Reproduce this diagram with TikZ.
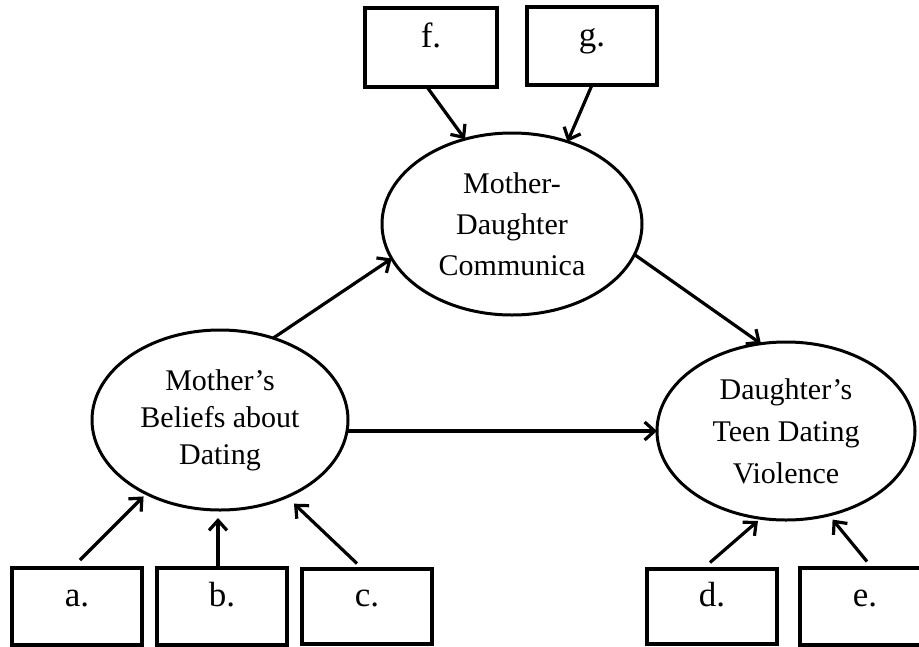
\documentclass[tikz,border=0pt]{standalone}
\usepackage{fontspec}
\setmainfont{Liberation Serif}
\usetikzlibrary{arrows.meta,shapes.geometric}

\begin{document}
\begin{tikzpicture}[x=1pt,y=-1pt,
  oval/.style={ellipse,draw,line width=3pt,inner sep=0pt,outer sep=0pt,align=center},
  slot/.style={rectangle,draw,line width=4pt,inner sep=0pt,outer sep=0pt,
    minimum width=130pt,minimum height=77pt,text height=12pt,text depth=12pt,
    font=\fontsize{35}{40}\selectfont},
  link/.style={line width=3.2pt,-{Straight Barb[length=10pt,width=18pt]}}]
\useasboundingbox (0,0) rectangle (919,646);
\clip (0,0) rectangle (919,646);

% latent constructs
\node[oval,minimum width=260pt,minimum height=182pt,font=\fontsize{30}{41}\selectfont]
  (T) at (512,224) {Mother-\\Daughter\\Communica};
\node[oval,minimum width=256pt,minimum height=180pt,font=\fontsize{30}{37}\selectfont]
  (L) at (220,420) {Mother’s\\Beliefs about\\Dating};
\node[oval,minimum width=258pt,minimum height=178pt,font=\fontsize{30}{42}\selectfont]
  (R) at (786,431) {Daughter’s\\Teen Dating\\Violence};

% indicator boxes
\node[slot,minimum width=132pt,minimum height=79pt] (f) at (431,47.5) {f.};
\node[slot,minimum height=78pt] (g) at (592,46) {g.};
\node[slot] (a) at (77,606.5) {a.};
\node[slot] (b) at (222,606.5) {b.};
\node[slot,minimum height=75pt] (c) at (367,606) {c.};
\node[slot,minimum height=75pt] (d) at (712,606) {d.};
\node[slot] (e) at (865,606) {e.};

% paths between constructs
\draw[link] ([xshift=-4pt]f.south) -- (T.119);
\draw[link] (g.south) -- (T.56.3);
\draw[link] (L.57.1) -- (T.196.3);
\draw[link] (T.346.7) -- (R.106.6);
\draw[link] (L.354.6 |- R.west) -- (R.west);

% indicators into the constructs
\draw[link,shorten >=4pt] ([xshift=3pt,yshift=8pt]a.north) -- (L.225.8);
\draw[link] ([xshift=-4pt]b.north) -- ([xshift=-2pt,yshift=-8pt]L.south);
\draw[link,shorten >=10pt] ([xshift=-10pt,yshift=5pt]c.north) -- (L.311.8);
\draw[link,shorten >=4pt] ([xshift=-2pt,yshift=6pt]d.north) -- (R.254);
\draw[link,shorten >=6pt] ([xshift=2pt,yshift=6pt]e.north) -- (R.297.4);
\end{tikzpicture}
\end{document}
